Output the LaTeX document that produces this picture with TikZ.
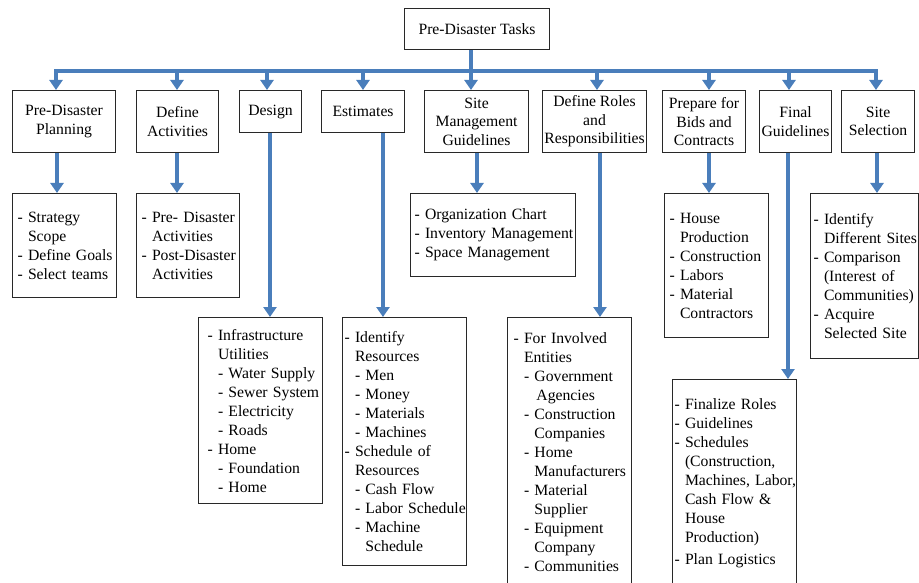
\documentclass[tikz,border=0pt]{standalone}
\usepackage{fontspec}
\setmainfont{Liberation Serif}
\usetikzlibrary{arrows.meta}
\definecolor{arrowblue}{RGB}{74,126,187}
\definecolor{boxline}{RGB}{40,40,40}
\newcommand\hd{\phantom{-\ }}
\begin{document}
\begin{tikzpicture}[x=1pt,y=-1pt,
  every node/.style={font=\fontsize{15.7}{19}\selectfont},
  topbox/.style={draw=boxline, line width=1.1pt, fill=white, align=center, inner sep=1pt, anchor=north west, font=\fontsize{15.7}{18.5}\selectfont},
  detail/.style={draw=boxline, line width=1.1pt, align=left, inner ysep=0pt, anchor=north west},
  arr/.style={draw=arrowblue, line width=4.5pt, -{Triangle[width=13pt,length=10pt]}},
  link/.style={draw=arrowblue, line width=4.5pt}]
\useasboundingbox (0,0) rectangle (919,583);

% root
\node[topbox, minimum width=145pt, minimum height=41pt] (root) at (404,8) {Pre-Disaster Tasks};

% level 1
\node[topbox, minimum width=103pt, minimum height=62pt] (pdp) at (12,90) {Pre-Disaster\\Planning};
\node[topbox, minimum width=82pt, minimum height=62pt] (da) at (136,90) {Define\\Activities};
\node[topbox, minimum width=62pt, minimum height=42pt] (des) at (239,90) {Design};
\node[topbox, minimum width=83pt, minimum height=42pt] (est) at (321,90) {Estimates};
\node[topbox, minimum width=104pt, minimum height=62pt] (sm) at (424,90) {Site\\Management\\Guidelines};
\node[topbox, minimum width=104pt, minimum height=62pt] (dr) at (542,90) {Define Roles\\and\\Responsibilities};
\node[topbox, minimum width=83pt, minimum height=62pt] (pb) at (662,90) {Prepare for\\Bids and\\Contracts};
\node[topbox, minimum width=72pt, minimum height=62pt] (fg) at (759,90) {Final\\Guidelines};
\node[topbox, minimum width=73pt, minimum height=62pt] (ss) at (841,90) {Site\\Selection};

% level 2
\node[detail, inner xsep=5pt, text width=94pt, minimum height=104pt] (pdpd) at (12,193)
  {- Strategy\\ \hd Scope\\ \mbox{- Define Goals}\\ \mbox{- Select teams}};
\node[detail, inner xsep=5pt, text width=93pt, minimum height=104pt] (dad) at (136,193)
  {\mbox{- Pre- Disaster}\\ \hd Activities\\ \mbox{- Post-Disaster}\\ \hd Activities};
\node[detail, inner xsep=4pt, text width=157pt, minimum height=83pt] (smd) at (410,193)
  {\mbox{- Organization Chart}\\ \mbox{- Inventory Management}\\ \mbox{- Space Management}};
\node[detail, inner xsep=5pt, text width=94pt, minimum height=144pt] (pbd) at (664,193)
  {- House\\ \hd Production\\ - Construction\\ - Labors\\ - Material\\ \hd Contractors};
\node[detail, inner xsep=3pt, text width=102pt, minimum height=165pt] (ssd) at (810,193)
  {- Identify\\ \mbox{\hd Different Sites}\\ - Comparison\\ \mbox{\hd (Interest of}\\ \hd Communities)\\ - Acquire\\ \mbox{\hd Selected Site}};
\node[detail, inner xsep=9pt, text width=106pt, minimum height=186pt] (desd) at (198,317)
  {- Infrastructure\\ \hd Utilities\\ \mbox{\hd - Water Supply}\\ \mbox{\hd - Sewer System}\\ \hd - Electricity\\ \hd - Roads\\ - Home\\ \hd - Foundation\\ \hd - Home};
\node[detail, inner xsep=2pt, text width=120pt, minimum height=248pt] (estd) at (342,317)
  {- Identify\\ \hd Resources\\ \hd - Men\\ \hd - Money\\ \hd - Materials\\ \hd - Machines\\ \mbox{- Schedule of}\\ \hd Resources\\ \mbox{\hd - Cash Flow}\\ \mbox{\hd - Labor Schedule}\\ \hd - Machine\\ \hd\hd Schedule};
\node[detail, inner xsep=6pt, text width=112pt, minimum height=270pt] (drd) at (507,317)
  {\mbox{- For Involved}\\ \hd Entities\\ \hd - Government\\ \hd\hd\hspace{2pt}Agencies\\ \hd - Construction\\ \hd\hd Companies\\ \hd - Home\\ \hd\hd Manufacturers\\ \hd - Material\\ \hd\hd Supplier\\ \hd - Equipment\\ \hd\hd Company\\ \hd - Communities};
\node[detail, inner xsep=2pt, text width=120pt, minimum height=208pt] (fgd) at (672,379)
  {\mbox{- Finalize Roles}\\ - Guidelines\\ - Schedules\\ \hd (Construction,\\ \mbox{\hd Machines, Labor,}\\ \mbox{\hd Cash Flow \&}\\ \hd House\\ \hd Production)\\[3pt] \mbox{- Plan Logistics}};

% bus
\coordinate (j) at (471,71);
\coordinate (busL) at (56,71);
\coordinate (busR) at (876,71);
\draw[link] (root.south -| j) -- (j);
\draw[link, line cap=rect] (busL) -- (busR);
\coordinate (b1) at (56,71);
\coordinate (b2) at (177,71);
\coordinate (b3) at (267,71);
\coordinate (b4) at (363,71);
\coordinate (b5) at (471,71);
\coordinate (b6) at (597,71);
\coordinate (b7) at (709,71);
\coordinate (b8) at (789,71);
\coordinate (b9) at (876,71);
\draw[arr] (b1) -- (b1 |- pdp.north);
\draw[arr] (b2) -- (b2 |- da.north);
\draw[arr] (b3) -- (b3 |- des.north);
\draw[arr] (b4) -- (b4 |- est.north);
\draw[arr] (b5) -- (b5 |- sm.north);
\draw[arr] (b6) -- (b6 |- dr.north);
\draw[arr] (b7) -- (b7 |- pb.north);
\draw[arr] (b8) -- (b8 |- fg.north);
\draw[arr] (b9) -- (b9 |- ss.north);

% lower connectors
\draw[arr] (57,0 |- pdp.south) -- (57,0 |- pdpd.north);
\draw[arr] (177,0 |- da.south) -- (177,0 |- dad.north);
\draw[arr] (270,0 |- des.south) -- (270,0 |- desd.north);
\draw[arr] (383,0 |- est.south) -- (383,0 |- estd.north);
\draw[arr] (477,0 |- sm.south) -- (477,0 |- smd.north);
\draw[arr] (600,0 |- dr.south) -- (600,0 |- drd.north);
\draw[arr] (709,0 |- pb.south) -- (709,0 |- pbd.north);
\draw[arr] (788,0 |- fg.south) -- (788,0 |- fgd.north);
\draw[arr] (877,0 |- ss.south) -- (877,0 |- ssd.north);
\end{tikzpicture}
\end{document}
